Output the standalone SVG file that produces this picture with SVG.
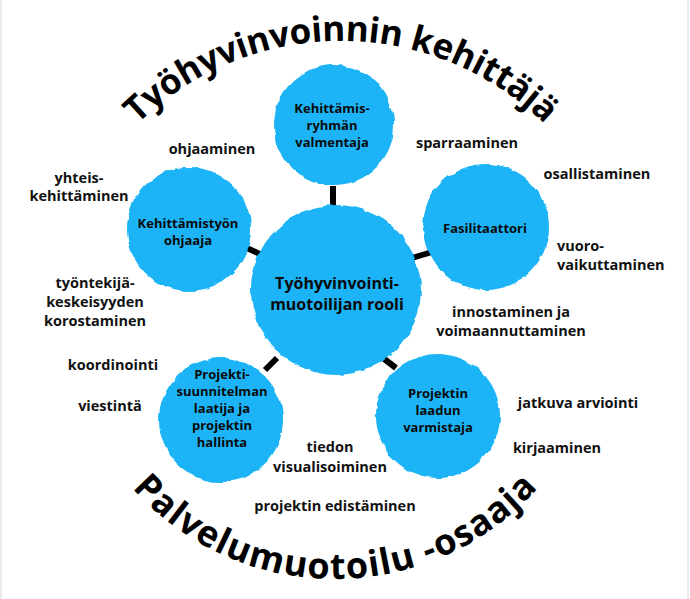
<svg xmlns="http://www.w3.org/2000/svg" width="690" height="599" viewBox="0 0 690 599">
  <defs>
    <style>
      .node { fill: #1ab4f6; }
      .nt { font-family: "Open Sans", "Noto Sans", "Liberation Sans", sans-serif; font-weight: 700; font-size: 13px; fill: #0a0a0a; text-anchor: middle; }
      .ct { font-family: "Open Sans", "Noto Sans", "Liberation Sans", sans-serif; font-weight: 700; font-size: 16px; fill: #0a0a0a; text-anchor: middle; }
      .lb { font-family: "Open Sans", "Noto Sans", "Liberation Sans", sans-serif; font-weight: 700; font-size: 14.5px; fill: #111; text-anchor: middle; }
      .lbl { text-anchor: start; }
      .arc { font-family: "Open Sans", "Noto Sans", "Liberation Sans", sans-serif; font-weight: 700; fill: #000; }
      .conn { stroke: #000; stroke-width: 6; stroke-linecap: butt; fill: none; }
      .frame { stroke: #e3e3ea; stroke-width: 1.5; }
    </style>
    <filter id="brush" x="-10%" y="-10%" width="120%" height="120%">
      <feTurbulence type="fractalNoise" baseFrequency="0.08" numOctaves="2" seed="3" result="n"/>
      <feDisplacementMap in="SourceGraphic" in2="n" scale="5" xChannelSelector="R" yChannelSelector="G"/>
    </filter>
    <path id="topArc" d="M 67.5 232.5 A 291 291 0 0 1 614.5 232.5"/>
    <path id="botArc" d="M 79.4 400 A 272 272 0 0 0 590.6 400"/>
  </defs>

  <rect x="0" y="0" width="690" height="599" fill="#ffffff"/>
  <line class="frame" x1="1" y1="0" x2="1" y2="599"/>
  <line class="frame" x1="688" y1="0" x2="688" y2="599"/>

  <g id="connectors">
    <line class="conn" x1="333" y1="186" x2="333" y2="206"/>
    <line class="conn" x1="245" y1="247" x2="264" y2="256"/>
    <line class="conn" x1="412" y1="258" x2="432" y2="252"/>
    <line class="conn" x1="265" y1="370" x2="277" y2="358"/>
    <line class="conn" x1="383" y1="358" x2="396" y2="368"/>
  </g>

  <g id="node-top">
    <circle class="node" cx="334" cy="125" r="60" filter="url(#brush)"/>
    <text class="nt" x="332" y="113">Kehittämis-</text>
    <text class="nt" x="332" y="130">ryhmän</text>
    <text class="nt" x="332" y="147">valmentaja</text>
  </g>

  <g id="node-center">
    <circle class="node" cx="336" cy="290" r="85" filter="url(#brush)"/>
    <text class="ct" x="337" y="289">Työhyvinvointi-</text>
    <text class="ct" x="337" y="310">muotoilijan rooli</text>
  </g>

  <g id="node-left">
    <circle class="node" cx="189" cy="229" r="62" filter="url(#brush)"/>
    <text class="nt" x="188" y="228">Kehittämistyön</text>
    <text class="nt" x="188" y="245">ohjaaja</text>
  </g>

  <g id="node-right">
    <circle class="node" cx="486" cy="227" r="63" filter="url(#brush)"/>
    <text class="nt" x="485" y="233">Fasilitaattori</text>
  </g>

  <g id="node-bottom-left">
    <circle class="node" cx="221" cy="420" r="62" filter="url(#brush)"/>
    <text class="nt" x="222" y="379">Projekti-</text>
    <text class="nt" x="222" y="396">suunnitelman</text>
    <text class="nt" x="222" y="413">laatija ja</text>
    <text class="nt" x="222" y="430">projektin</text>
    <text class="nt" x="222" y="447">hallinta</text>
  </g>

  <g id="node-bottom-right">
    <circle class="node" cx="438" cy="416" r="62" filter="url(#brush)"/>
    <text class="nt" x="438" y="398">Projektin</text>
    <text class="nt" x="438" y="415">laadun</text>
    <text class="nt" x="438" y="432">varmistaja</text>
  </g>

  <g id="labels">
    <text class="lb" x="212" y="154">ohjaaminen</text>
    <text class="lb" x="79" y="183">yhteis-</text>
    <text class="lb" x="79" y="201">kehittäminen</text>
    <text class="lb" x="95" y="288">työntekijä-</text>
    <text class="lb" x="95" y="307">keskeisyyden</text>
    <text class="lb" x="95" y="326">korostaminen</text>
    <text class="lb" x="467" y="148">sparraaminen</text>
    <text class="lb" x="597" y="179">osallistaminen</text>
    <text class="lb lbl" x="557" y="251">vuoro-</text>
    <text class="lb lbl" x="557" y="270">vaikuttaminen</text>
    <text class="lb" x="511" y="317">innostaminen ja</text>
    <text class="lb" x="511" y="336">voimaannuttaminen</text>
    <text class="lb" x="113" y="370">koordinointi</text>
    <text class="lb" x="110" y="411">viestintä</text>
    <text class="lb" x="330" y="452">tiedon</text>
    <text class="lb" x="330" y="472">visualisoiminen</text>
    <text class="lb" x="335" y="511">projektin edistäminen</text>
    <text class="lb" x="578" y="408">jatkuva arviointi</text>
    <text class="lb" x="557" y="453">kirjaaminen</text>
  </g>

  <g id="arc-titles">
    <text class="arc" font-size="35"><textPath href="#topArc" startOffset="50%" text-anchor="middle" textLength="451" lengthAdjust="spacing">Työhyvinvoinnin kehittäjä</textPath></text>
    <text class="arc" font-size="36"><textPath href="#botArc" startOffset="50%" text-anchor="middle" textLength="458" lengthAdjust="spacing">Palvelumuotoilu -osaaja</textPath></text>
  </g>
</svg>
